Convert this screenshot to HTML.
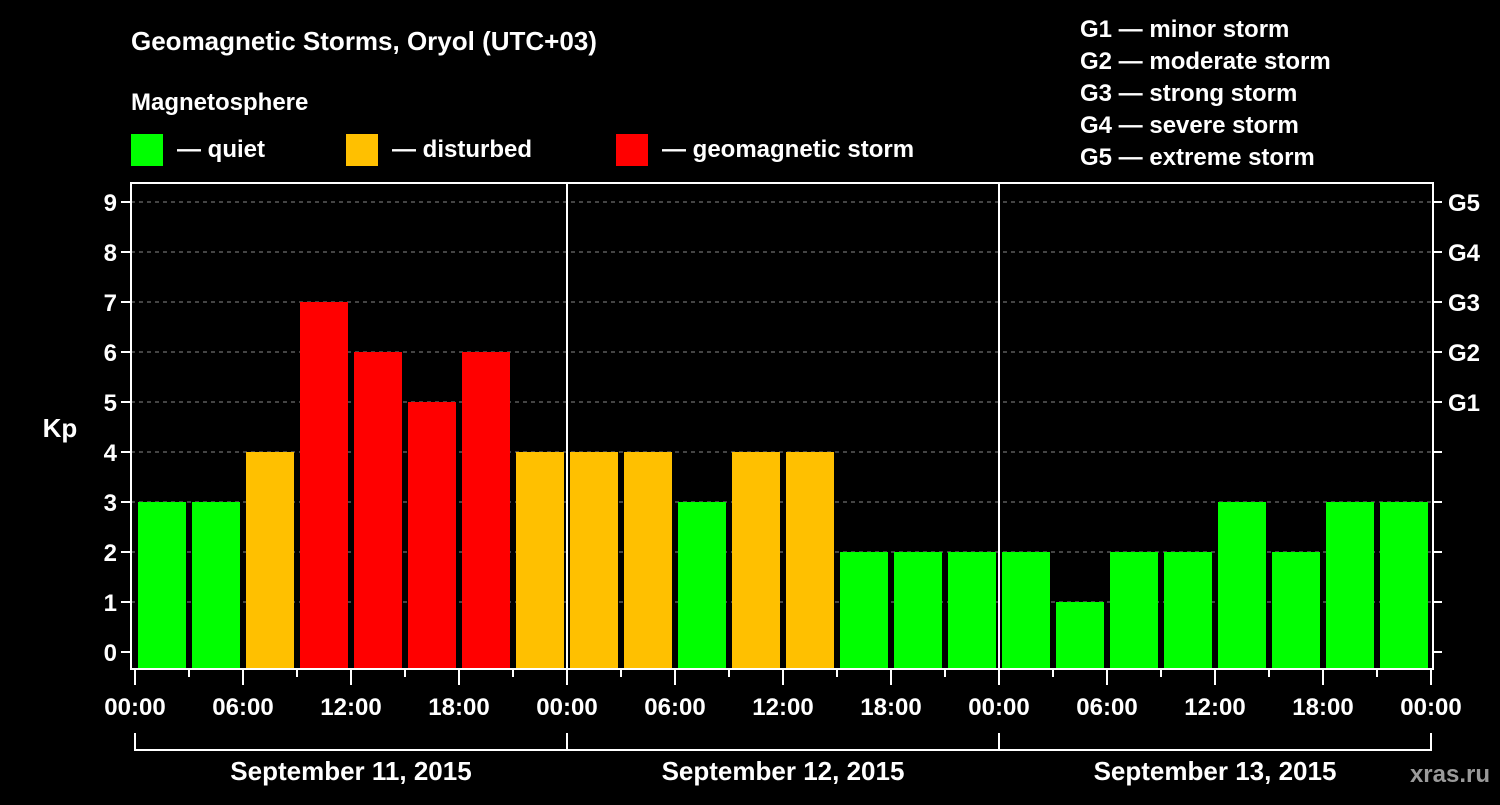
<!DOCTYPE html>
<html><head><meta charset="utf-8"><style>
body{margin:0;background:#000;width:1500px;height:800px;overflow:hidden}
svg text{font-family:"Liberation Sans",sans-serif;font-weight:bold;fill:#fff}
</style></head><body>
<svg id="c" width="1500" height="800">
<text x="131" y="50" font-size="26">Geomagnetic Storms, Oryol (UTC+03)</text>
<text x="131" y="110" font-size="24">Magnetosphere</text>
<rect x="131" y="134" width="32" height="32" fill="#00ff00"/>
<text x="177" y="157" font-size="24">— quiet</text>
<rect x="346" y="134" width="32" height="32" fill="#ffc000"/>
<text x="392" y="157" font-size="24">— disturbed</text>
<rect x="616" y="134" width="32" height="32" fill="#ff0000"/>
<text x="662" y="157" font-size="24">— geomagnetic storm</text>
<g font-size="24">
<text x="1080" y="37">G1 — minor storm</text>
<text x="1080" y="69">G2 — moderate storm</text>
<text x="1080" y="101">G3 — strong storm</text>
<text x="1080" y="133">G4 — severe storm</text>
<text x="1080" y="165">G5 — extreme storm</text>
</g>
<text x="60" y="437" font-size="26" text-anchor="middle">Kp</text>
<text x="1490" y="782" font-size="24" text-anchor="end" fill="#999" style="fill:#9a9a9a">xras.ru</text>
<g id="g"></g>
</svg>
<script>
const kpValues=[3,3,4,7,6,5,6,4, 4,4,3,4,4,2,2,2, 2,1,2,2,3,2,3,3];
const yTicks=[0,1,2,3,4,5,6,7,8,9];
const gLabels=["G1","G2","G3","G4","G5"];
const xTickLabels=["00:00","06:00","12:00","18:00","00:00","06:00","12:00","18:00","00:00","06:00","12:00","18:00","00:00"];
const dayLabels=["September 11, 2015","September 12, 2015","September 13, 2015"];
const L=131,R=1433,T=183,B=669,X0=135,HW=18;
const xs=h=>X0+h*HW, ys=v=>652-v*50;
const g=document.getElementById('g'),NS="http://www.w3.org/2000/svg";
function mk(t,a){const e=document.createElementNS(NS,t);for(const k in a)e.setAttribute(k,a[k]);g.appendChild(e);return e;}
yTicks.forEach(v=>{
 if(v>0){const l=mk('line',{x1:L,x2:R,y1:ys(v),y2:ys(v),stroke:'#888','stroke-dasharray':'4,4'});
 
 }
 const t=mk('line',{x1:L-10,x2:L,y1:ys(v),y2:ys(v),stroke:'#fff','stroke-width':2});
 
 
 const t2=mk('line',{x1:R,x2:R+9,y1:ys(v),y2:ys(v),stroke:'#fff','stroke-width':2});
 
 
 const tx=mk('text',{x:L-14,y:ys(v)+9,'font-size':24,'text-anchor':'end'});tx.textContent=v;
 
 
});
gLabels.forEach((s,i)=>{const tx=mk('text',{x:1448,y:ys(5+i)+9,'font-size':24});tx.textContent=s;
 
 });
kpValues.forEach((v,i)=>{
 const c=v>=5?'#ff0000':v>=4?'#ffc000':'#00ff00';
 const r=mk('rect',{x:xs(i*3)+3,y:ys(v),width:48,height:B-ys(v),fill:c});
 
 
});
[1,2].forEach(d=>{const l=mk('line',{x1:xs(d*24),x2:xs(d*24),y1:T,y2:B,stroke:'#fff','stroke-width':2});
 
 });
const fr=mk('rect',{x:L,y:T,width:R-L,height:B-T,fill:'none',stroke:'#fff','stroke-width':2});


for(let h=0;h<=72;h+=3){const maj=h%6==0;
 const l=mk('line',{x1:xs(h),x2:xs(h),y1:B,y2:B+(maj?16:8),stroke:'#fff','stroke-width':2});
 
 }
xTickLabels.forEach((s,i)=>{const tx=mk('text',{x:xs(i*6),y:715,'font-size':24,'text-anchor':'middle'});tx.textContent=s;
 
 });
dayLabels.forEach((s,i)=>{
 const p=mk('path',{d:`M${xs(i*24)},733V750H${xs(i*24+24)}V733`,fill:'none',stroke:'#fff','stroke-width':2});
 
 
 const tx=mk('text',{x:xs(i*24+12),y:780,'font-size':26,'text-anchor':'middle'});tx.textContent=s;
 
 
});
</script>
</body></html>
